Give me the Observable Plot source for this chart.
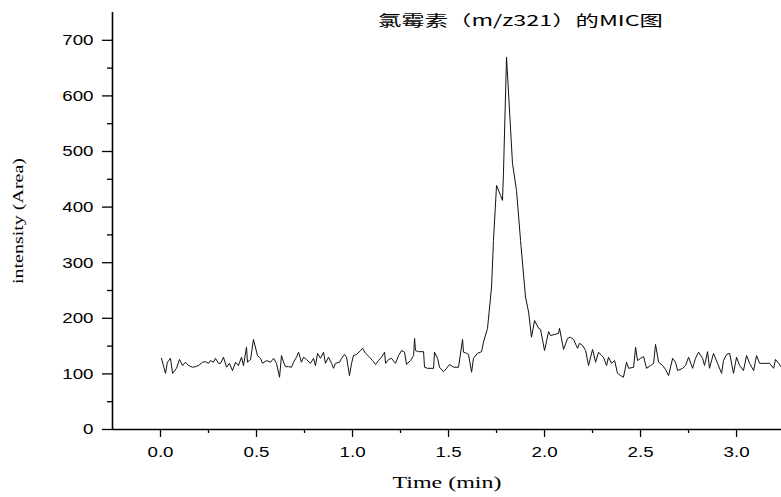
<!DOCTYPE html>
<html><head><meta charset="utf-8">
<script src="https://cdn.jsdelivr.net/npm/d3@7"></script>
<script src="https://cdn.jsdelivr.net/npm/@observablehq/plot@0.6"></script>
<style>
body{margin:0;background:#fff;}
#wrap{position:relative;width:781px;height:497px;overflow:hidden;background:#fff;}
#overlay{position:absolute;left:0;top:0;pointer-events:none;}
g[aria-label="x-axis label"] text{font-family:"Liberation Serif","Times New Roman",serif;font-size:16px;}
g[aria-label="y-axis label"] text{font-family:"Liberation Serif","Times New Roman",serif;font-size:20px;}
</style></head><body>
<div id="wrap"></div>
<script>
const chartTitle = "氯霉素（m/z321）的MIC图";
const xLabel = "Time (min)";
const yLabel = "intensity (Area)";

const time = [
 0.005,0.026,0.036,0.052,0.063,0.083,0.099,0.115,0.130,0.146,0.167,0.182,0.198,0.219,0.234,0.250,0.260,0.276,0.286,0.302,
 0.313,0.328,0.344,0.359,0.375,0.391,0.406,0.422,0.432,0.448,0.453,0.469,0.484,0.505,0.521,0.531,0.552,0.573,0.589,0.604,0.620,
 0.630,0.641,0.651,0.667,0.682,0.693,0.708,0.719,0.734,0.745,0.760,0.781,0.797,0.807,0.818,0.833,0.849,0.859,0.875,0.891,
 0.901,0.911,0.932,0.943,0.958,0.969,0.984,0.995,1.005,1.021,1.042,1.052,1.068,1.089,1.104,1.120,1.135,1.151,1.167,1.172,
 1.188,1.203,1.224,1.240,1.255,
 1.271,1.281,1.302,1.318,1.323,1.328,1.344,1.370,1.375,1.391,1.422,1.427,1.443,1.453,1.474,1.490,1.505,1.526,1.552,1.573,
 1.578,1.594,1.604,1.620,1.630,1.651,1.672,1.682,1.703,1.724,1.734,1.750,1.771,1.781,1.786,1.802,1.833,1.854,1.875,1.901,
 1.917,1.932,
 1.948,1.969,1.979,2.000,2.021,2.031,2.052,2.073,2.078,2.099,2.120,2.135,2.151,2.172,2.182,2.198,2.214,2.229,2.250,2.266,
 2.281,2.297,2.307,2.323,2.333,2.349,2.365,2.380,2.396,2.411,2.427,2.438,2.464,2.474,2.484,2.500,2.516,2.531,2.552,
 2.568,2.578,2.594,2.615,2.630,2.646,2.667,2.682,2.693,2.719,2.734,2.750,2.771,2.786,2.802,2.823,2.833,2.849,2.859,2.880,
 2.901,2.922,2.932,2.948,2.964,2.984,3.000,3.016,3.036,3.052,3.068,3.089,3.104,3.120,3.151,3.172,3.193,3.203,3.219,3.234
];
const intensity = [
 128,101,121,128,101,110,126,115,121,115,112,113,115,121,122,119,124,121,128,119,
 119,130,112,119,106,121,115,130,115,148,121,126,162,133,128,119,124,121,128,119,94,
 133,121,113,113,112,121,130,139,121,130,126,119,128,115,137,128,139,119,130,119,
 110,119,121,128,135,130,97,119,133,135,142,146,137,130,124,117,124,130,139,119,
 126,128,119,133,142,
 139,117,124,133,164,142,140,140,112,110,110,139,128,112,104,110,117,112,112,162,
 139,137,135,103,128,137,140,157,182,256,340,439,421,412,461,670,479,430,340,238,
 211,166,
 196,182,180,142,176,169,171,173,182,144,164,166,162,146,155,151,142,115,144,121,
 139,133,130,115,130,119,124,101,97,94,121,110,112,148,124,128,131,110,115,
 119,153,121,115,108,97,128,121,106,110,115,130,110,128,139,128,115,140,110,137,
 119,101,124,135,137,101,130,115,106,133,119,106,133,119,119,119,110,126,119,112
];

const xMajorTicks = [0, 0.5, 1.0, 1.5, 2.0, 2.5, 3.0];
const xMinorTicks = [0.25, 0.75, 1.25, 1.75, 2.25, 2.75];
const yMajorTicks = [0, 100, 200, 300, 400, 500, 600, 700];
const yMinorTicks = [50, 150, 250, 350, 450, 550, 650];
const xDomain = [-0.25, 3.234];
const yDomain = [0, 750];

const data = time.map((t, i) => ({t, v: intensity[i]}));
const TICK_STRETCH = 1.25;
const XLABEL_STRETCH = 1.5;
const YLABEL_SQUEEZE = 0.78;

const plot = Plot.plot({
  width: 781, height: 497,
  marginLeft: 112, marginRight: 0, marginTop: 12, marginBottom: 68,
  style: {fontFamily: '"Liberation Sans", Arial, sans-serif', fontSize: "15px", color: "#000", background: "#fff", overflow: "visible"},
  x: {domain: xDomain},
  y: {domain: yDomain},
  marks: [
    Plot.axisY({ticks: yMajorTicks, tickSize: 10, tickPadding: 9, tickFormat: d => String(d), strokeWidth: 1.3,
      label: yLabel, labelAnchor: "center", labelOffset: 101, labelArrow: "none"}),
    Plot.axisY({ticks: yMinorTicks, tickSize: 5, text: null, label: null, strokeWidth: 1.3}),
    Plot.axisX({ticks: xMajorTicks, tickSize: 8, tickPadding: 9, tickFormat: d => d.toFixed(1), strokeWidth: 1.3,
      label: xLabel, labelAnchor: "center", labelOffset: 58, labelArrow: "none"}),
    Plot.axisX({ticks: xMinorTicks, tickSize: 4, text: null, label: null, strokeWidth: 1.3}),
    Plot.ruleX([xDomain[0]], {stroke: "#000", strokeWidth: 1.6}),
    Plot.ruleY([0], {stroke: "#000", strokeWidth: 1.6}),
    Plot.line(data, {x: "t", y: "v", stroke: "#111", strokeWidth: 1})
  ]
});

function appendTransform(sel, extra) {
  sel.each(function() {
    const tr = this.getAttribute("transform") || "";
    this.setAttribute("transform", tr + " " + extra);
  });
}
appendTransform(d3.select(plot).selectAll('g[aria-label="y-axis tick label"] text, g[aria-label="x-axis tick label"] text'), `scale(${TICK_STRETCH},1)`);
appendTransform(d3.select(plot).selectAll('g[aria-label="x-axis label"] text'), `scale(${XLABEL_STRETCH},1)`);
appendTransform(d3.select(plot).selectAll('g[aria-label="y-axis label"] text'), `scale(1,${YLABEL_SQUEEZE})`);

const wrap = document.getElementById("wrap");
wrap.appendChild(plot);

// title overlay (sits inside the plot frame, as in the reference)
const ov = d3.select(wrap).append("svg").attr("id", "overlay").attr("width", 781).attr("height", 497);
ov.append("text")
  .attr("x", 378).attr("y", 26)
  .attr("textLength", 285).attr("lengthAdjust", "spacingAndGlyphs")
  .attr("font-family", '"Noto Sans CJK SC", "Liberation Sans", sans-serif')
  .attr("font-size", 15)
  .attr("fill", "#000")
  .text(chartTitle);
</script>
</body></html>
